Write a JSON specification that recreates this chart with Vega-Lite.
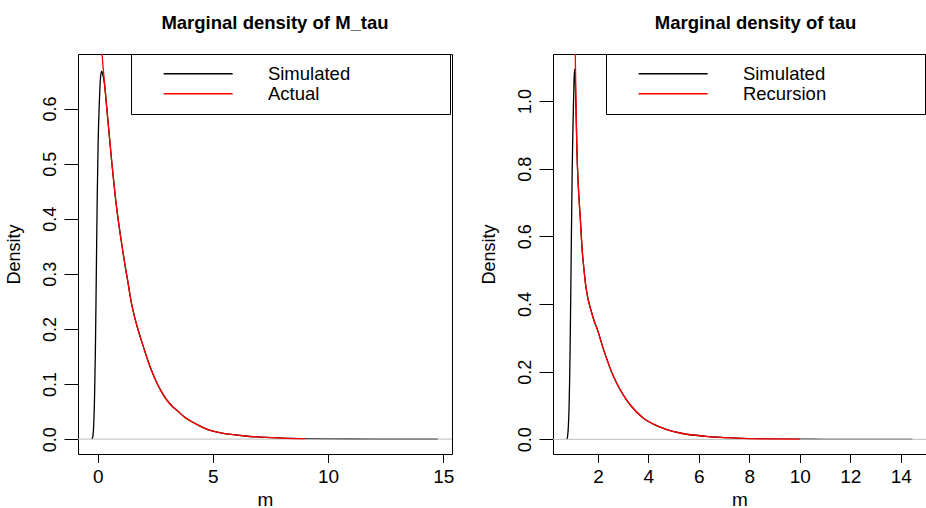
{
  "$schema": "https://vega.github.io/schema/vega-lite/v6.json",
  "padding": {"left": 4, "top": 13, "right": 0, "bottom": 0},
  "background": "white",
  "datasets": {
    "left_sim": [
      {"m": -0.254, "density": 0.0}, {"m": -0.22, "density": 0.003}, {"m": -0.18, "density": 0.02},
      {"m": -0.14, "density": 0.07}, {"m": -0.10, "density": 0.16}, {"m": -0.06, "density": 0.30},
      {"m": -0.02, "density": 0.44}, {"m": 0.02, "density": 0.54}, {"m": 0.07, "density": 0.61},
      {"m": 0.12, "density": 0.655}, {"m": 0.17, "density": 0.668}, {"m": 0.22, "density": 0.662},
      {"m": 0.3, "density": 0.643}, {"m": 0.4, "density": 0.598}, {"m": 0.5, "density": 0.553},
      {"m": 0.608, "density": 0.504}, {"m": 0.7, "density": 0.466}, {"m": 0.79, "density": 0.431},
      {"m": 0.9, "density": 0.395}, {"m": 1.0, "density": 0.366}, {"m": 1.09, "density": 0.341},
      {"m": 1.2, "density": 0.312}, {"m": 1.3, "density": 0.288}, {"m": 1.45, "density": 0.25},
      {"m": 1.6, "density": 0.222}, {"m": 1.75, "density": 0.199}, {"m": 1.95, "density": 0.172},
      {"m": 2.2, "density": 0.14}, {"m": 2.4, "density": 0.118}, {"m": 2.6, "density": 0.099},
      {"m": 2.8, "density": 0.084}, {"m": 3.0, "density": 0.071}, {"m": 3.2, "density": 0.061},
      {"m": 3.47, "density": 0.051}, {"m": 3.8, "density": 0.039}, {"m": 4.2, "density": 0.029},
      {"m": 4.63, "density": 0.02}, {"m": 5.0, "density": 0.0145}, {"m": 5.4, "density": 0.011},
      {"m": 5.79, "density": 0.0085}, {"m": 6.4, "density": 0.0057}, {"m": 7.09, "density": 0.0036},
      {"m": 8.0, "density": 0.0018}, {"m": 9.0, "density": 0.0009}, {"m": 10.0, "density": 0.0004},
      {"m": 11.0, "density": 0.0002}, {"m": 12.0, "density": 0.0001}, {"m": 13.0, "density": 0.00005},
      {"m": 14.0, "density": 0.00002}, {"m": 14.76, "density": 0.0}
    ],
    "left_act": [
      {"m": 0.10, "density": 0.745}, {"m": 0.187, "density": 0.699}, {"m": 0.25, "density": 0.668},
      {"m": 0.3, "density": 0.645}, {"m": 0.4, "density": 0.598}, {"m": 0.5, "density": 0.553},
      {"m": 0.608, "density": 0.504}, {"m": 0.7, "density": 0.466}, {"m": 0.79, "density": 0.431},
      {"m": 0.9, "density": 0.395}, {"m": 1.0, "density": 0.366}, {"m": 1.09, "density": 0.341},
      {"m": 1.2, "density": 0.312}, {"m": 1.3, "density": 0.288}, {"m": 1.45, "density": 0.25},
      {"m": 1.6, "density": 0.222}, {"m": 1.75, "density": 0.199}, {"m": 1.95, "density": 0.172},
      {"m": 2.2, "density": 0.14}, {"m": 2.4, "density": 0.118}, {"m": 2.6, "density": 0.099},
      {"m": 2.8, "density": 0.084}, {"m": 3.0, "density": 0.071}, {"m": 3.2, "density": 0.061},
      {"m": 3.47, "density": 0.051}, {"m": 3.8, "density": 0.039}, {"m": 4.2, "density": 0.029},
      {"m": 4.63, "density": 0.02}, {"m": 5.0, "density": 0.0145}, {"m": 5.4, "density": 0.011},
      {"m": 5.79, "density": 0.0085}, {"m": 6.4, "density": 0.0057}, {"m": 7.09, "density": 0.0036},
      {"m": 8.0, "density": 0.0017}, {"m": 9.0, "density": 0.0008}
    ],
    "right_sim": [
      {"m": 0.77, "density": 0.0}, {"m": 0.80, "density": 0.01}, {"m": 0.83, "density": 0.04},
      {"m": 0.855, "density": 0.09}, {"m": 0.876, "density": 0.163}, {"m": 0.895, "density": 0.25},
      {"m": 0.91, "density": 0.34}, {"m": 0.925, "density": 0.44}, {"m": 0.943, "density": 0.557},
      {"m": 0.96, "density": 0.67}, {"m": 0.98, "density": 0.79}, {"m": 1.0, "density": 0.88},
      {"m": 1.025, "density": 0.97}, {"m": 1.05, "density": 1.05}, {"m": 1.074, "density": 1.094},
      {"m": 1.095, "density": 1.08}, {"m": 1.12, "density": 1.01}, {"m": 1.145, "density": 0.93},
      {"m": 1.169, "density": 0.852}, {"m": 1.22, "density": 0.754}, {"m": 1.30, "density": 0.655},
      {"m": 1.379, "density": 0.557}, {"m": 1.45, "density": 0.5}, {"m": 1.511, "density": 0.458},
      {"m": 1.6, "density": 0.418}, {"m": 1.735, "density": 0.379}, {"m": 1.85, "density": 0.35},
      {"m": 2.0, "density": 0.32}, {"m": 2.198, "density": 0.271}, {"m": 2.35, "density": 0.238},
      {"m": 2.526, "density": 0.202}, {"m": 2.75, "density": 0.165}, {"m": 2.989, "density": 0.133},
      {"m": 3.3, "density": 0.1}, {"m": 3.781, "density": 0.064}, {"m": 4.2, "density": 0.045},
      {"m": 4.703, "density": 0.0295}, {"m": 5.3, "density": 0.018}, {"m": 6.286, "density": 0.0089},
      {"m": 7.473, "density": 0.0038}, {"m": 8.5, "density": 0.0015}, {"m": 10.0, "density": 0.0005},
      {"m": 11.0, "density": 0.0002}, {"m": 12.0, "density": 0.0001}, {"m": 13.0, "density": 0.00004},
      {"m": 14.46, "density": 0.0}
    ],
    "right_rec": [
      {"m": 1.05, "density": 1.35}, {"m": 1.102, "density": 1.139}, {"m": 1.135, "density": 0.99},
      {"m": 1.169, "density": 0.852}, {"m": 1.22, "density": 0.754}, {"m": 1.30, "density": 0.655},
      {"m": 1.379, "density": 0.557}, {"m": 1.45, "density": 0.5}, {"m": 1.511, "density": 0.458},
      {"m": 1.6, "density": 0.418}, {"m": 1.735, "density": 0.379}, {"m": 1.85, "density": 0.35},
      {"m": 2.0, "density": 0.32}, {"m": 2.198, "density": 0.271}, {"m": 2.35, "density": 0.238},
      {"m": 2.526, "density": 0.202}, {"m": 2.75, "density": 0.165}, {"m": 2.989, "density": 0.133},
      {"m": 3.3, "density": 0.1}, {"m": 3.781, "density": 0.064}, {"m": 4.2, "density": 0.045},
      {"m": 4.703, "density": 0.0295}, {"m": 5.3, "density": 0.018}, {"m": 6.286, "density": 0.0089},
      {"m": 7.473, "density": 0.0038}, {"m": 8.5, "density": 0.0015}, {"m": 10.0, "density": 0.0005}
    ]
  },
  "config": {
    "font": "Liberation Sans",
    "view": {"stroke": "black", "strokeWidth": 1},
    "axis": {
      "grid": false, "domain": false, "tickColor": "black", "tickWidth": 1,
      "labelColor": "black", "titleColor": "black", "labelFont": "Liberation Sans", "titleFont": "Liberation Sans",
      "titleFontWeight": "normal", "labelOverlap": false, "labelFlush": false
    },
    "axisX": {"tickSize": 8.5, "labelPadding": 4.5, "labelFontSize": 19, "labelBaseline": "top", "titleFontSize": 19, "titleY": 51, "titleBaseline": "alphabetic"},
    "axisY": {"tickSize": 14, "labelPadding": 13.4, "labelFontSize": 18, "labelAngle": 270, "labelAlign": "center", "labelBaseline": "middle", "titleFontSize": 18, "titleX": -64, "titleBaseline": "middle", "titleAngle": 270},
    "legend": {
      "orient": "none", "legendX": 53, "legendY": 0, "strokeColor": "black", "fillColor": "white",
      "padding": 10.5, "symbolType": "M-5,0H5", "symbolSize": 190.44, "symbolStrokeWidth": 1.3,
      "symbolOffset": 47.4, "labelOffset": 60.5, "labelFontSize": 18.5, "labelFont": "Liberation Sans",
      "labelColor": "black", "rowPadding": 1, "labelLimit": 400
    },
    "title": {"font": "Liberation Sans", "fontSize": 18.5, "fontWeight": "bold", "color": "black", "baseline": "alphabetic", "offset": 21}
  },
  "spacing": 101,
  "bounds": "flush",
  "resolve": {"scale": {"color": "independent"}, "legend": {"color": "independent"}},
  "hconcat": [
    {
      "width": 374, "height": 400,
      "title": {"text": "Marginal density of M_tau", "dx": 10},
      "layer": [
        {
          "data": {"name": "left_sim"},
          "mark": {"type": "line", "clip": true, "strokeWidth": 1.3, "interpolate": "monotone"},
          "encoding": {
            "x": {"field": "m", "type": "quantitative", "scale": {"domain": [-0.855, 15.38], "nice": false, "zero": false}, "axis": {"values": [0, 5, 10, 15], "format": "d", "title": "m"}},
            "y": {"field": "density", "type": "quantitative", "scale": {"domain": [-0.027, 0.699], "nice": false, "zero": false}, "axis": {"values": [0, 0.1, 0.2, 0.3, 0.4, 0.5, 0.6], "format": ".1f", "title": "Density"}},
            "color": {
              "datum": "Simulated",
              "scale": {"domain": ["Simulated", "Actual"], "range": ["black", "#FF0000"]},
              "legend": {"title": null, "labelExpr": "datum.label + '                 \u200a\u200b'"}
            }
          }
        },
        {
          "data": {"values": [{}]},
          "mark": {"type": "rule", "color": "#BEBEBE", "strokeWidth": 1},
          "encoding": {"y": {"datum": 0}}
        },
        {
          "data": {"name": "left_act"},
          "mark": {"type": "line", "clip": true, "strokeWidth": 1.3, "interpolate": "monotone"},
          "encoding": {
            "x": {"field": "m", "type": "quantitative"},
            "y": {"field": "density", "type": "quantitative"},
            "color": {"datum": "Actual"}
          }
        }
      ]
    },
    {
      "width": 373, "height": 400,
      "title": {"text": "Marginal density of tau", "dx": 16},
      "layer": [
        {
          "data": {"name": "right_sim"},
          "mark": {"type": "line", "clip": true, "strokeWidth": 1.3, "interpolate": "monotone"},
          "encoding": {
            "x": {"field": "m", "type": "quantitative", "scale": {"domain": [0.22, 15.0], "nice": false, "zero": false}, "axis": {"values": [2, 4, 6, 8, 10, 12, 14], "format": "d", "title": "m"}},
            "y": {"field": "density", "type": "quantitative", "scale": {"domain": [-0.0433, 1.139], "nice": false, "zero": false}, "axis": {"values": [0, 0.2, 0.4, 0.6, 0.8, 1.0], "format": ".1f", "title": "Density"}},
            "color": {
              "datum": "Simulated",
              "scale": {"domain": ["Simulated", "Recursion"], "range": ["black", "#FF0000"]},
              "legend": {"title": null, "labelExpr": "datum.label + '                 \u200b'"}
            }
          }
        },
        {
          "data": {"values": [{}]},
          "mark": {"type": "rule", "color": "#BEBEBE", "strokeWidth": 1},
          "encoding": {"y": {"datum": 0}}
        },
        {
          "data": {"name": "right_rec"},
          "mark": {"type": "line", "clip": true, "strokeWidth": 1.3, "interpolate": "monotone"},
          "encoding": {
            "x": {"field": "m", "type": "quantitative"},
            "y": {"field": "density", "type": "quantitative"},
            "color": {"datum": "Recursion"}
          }
        }
      ]
    }
  ]
}
